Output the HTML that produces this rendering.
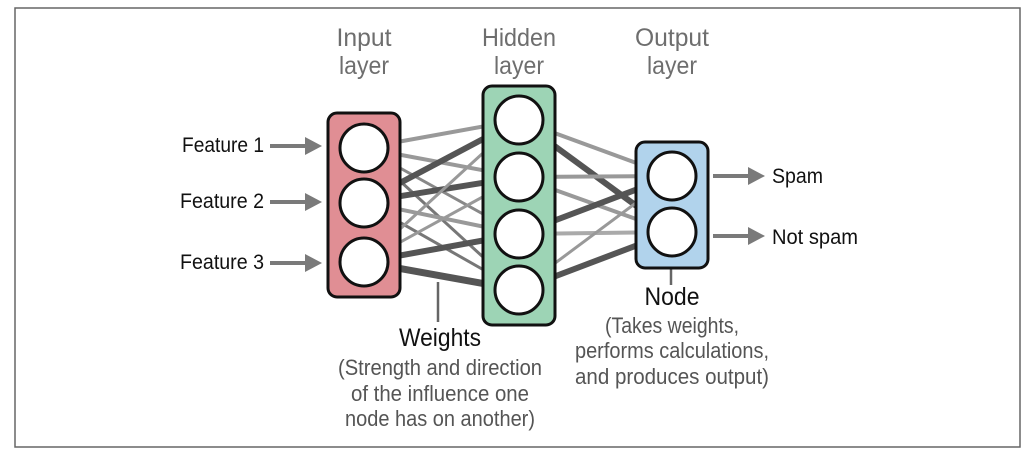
<!DOCTYPE html>
<html><head><meta charset="utf-8"><style>
html,body{margin:0;padding:0;background:#fff}
svg{display:block}
text{font-family:"Liberation Sans Narrow","Liberation Sans",sans-serif}
</style></head><body>
<svg width="1032" height="459" viewBox="0 0 1032 459">
<rect x="15" y="8" width="1005" height="439" fill="#fff" stroke="#666" stroke-width="1.5"/>
<!-- titles -->
<g fill="#6e6e6e" font-size="25" text-anchor="middle">
<text x="364" y="46" textLength="55" lengthAdjust="spacingAndGlyphs">Input</text>
<text x="364" y="74" textLength="50" lengthAdjust="spacingAndGlyphs">layer</text>
<text x="519" y="46" textLength="74" lengthAdjust="spacingAndGlyphs">Hidden</text>
<text x="519" y="74" textLength="50" lengthAdjust="spacingAndGlyphs">layer</text>
<text x="672" y="46" textLength="74" lengthAdjust="spacingAndGlyphs">Output</text>
<text x="672" y="74" textLength="50" lengthAdjust="spacingAndGlyphs">layer</text>
</g>
<!-- features -->
<g fill="#111" font-size="21" text-anchor="end">
<text x="264" y="152" textLength="82" lengthAdjust="spacingAndGlyphs">Feature 1</text>
<text x="264" y="208" textLength="84" lengthAdjust="spacingAndGlyphs">Feature 2</text>
<text x="264" y="269" textLength="84" lengthAdjust="spacingAndGlyphs">Feature 3</text>
</g>
<g stroke="#7a7a7a" stroke-width="4">
<line x1="270" y1="146" x2="308" y2="146"/>
<line x1="270" y1="202" x2="308" y2="202"/>
<line x1="270" y1="263" x2="308" y2="263"/>
<line x1="713" y1="176" x2="751" y2="176"/>
<line x1="713" y1="236" x2="751" y2="236"/>
</g>
<g fill="#7a7a7a">
<path d="M305,137 L322,146 L305,155 Z"/>
<path d="M305,193 L322,202 L305,211 Z"/>
<path d="M305,254 L322,263 L305,272 Z"/>
<path d="M748,167 L765,176 L748,185 Z"/>
<path d="M748,227 L765,236 L748,245 Z"/>
</g>
<g fill="#111" font-size="21">
<text x="772" y="183" textLength="51" lengthAdjust="spacingAndGlyphs">Spam</text>
<text x="772" y="244" textLength="86" lengthAdjust="spacingAndGlyphs">Not spam</text>
</g>
<!-- connections -->
<g stroke-linecap="butt">
<line x1="364" y1="148" x2="519" y2="120" stroke="#999" stroke-width="4"/>
<line x1="364" y1="148" x2="519" y2="177" stroke="#999" stroke-width="4"/>
<line x1="364" y1="148" x2="519" y2="234" stroke="#888" stroke-width="3"/>
<line x1="364" y1="148" x2="519" y2="290" stroke="#777" stroke-width="3"/>
<line x1="364" y1="202" x2="519" y2="120" stroke="#555" stroke-width="6"/>
<line x1="364" y1="202" x2="519" y2="177" stroke="#555" stroke-width="6"/>
<line x1="364" y1="202" x2="519" y2="234" stroke="#999" stroke-width="4"/>
<line x1="364" y1="202" x2="519" y2="290" stroke="#777" stroke-width="3"/>
<line x1="364" y1="262" x2="519" y2="120" stroke="#999" stroke-width="3"/>
<line x1="364" y1="262" x2="519" y2="177" stroke="#999" stroke-width="3"/>
<line x1="364" y1="262" x2="519" y2="234" stroke="#555" stroke-width="6"/>
<line x1="364" y1="262" x2="519" y2="290" stroke="#555" stroke-width="7"/>
<line x1="519" y1="120" x2="672" y2="176" stroke="#999" stroke-width="4"/>
<line x1="519" y1="120" x2="672" y2="232" stroke="#555" stroke-width="6"/>
<line x1="519" y1="177" x2="672" y2="176" stroke="#999" stroke-width="4"/>
<line x1="519" y1="177" x2="672" y2="232" stroke="#999" stroke-width="4"/>
<line x1="519" y1="234" x2="672" y2="176" stroke="#555" stroke-width="6"/>
<line x1="519" y1="234" x2="672" y2="232" stroke="#aaa" stroke-width="4"/>
<line x1="519" y1="290" x2="672" y2="176" stroke="#999" stroke-width="3"/>
<line x1="519" y1="290" x2="672" y2="232" stroke="#555" stroke-width="6"/>
</g>
<!-- pointer lines -->
<line x1="438" y1="282" x2="438" y2="322" stroke="#666" stroke-width="2.5"/>
<line x1="671" y1="252" x2="671" y2="285" stroke="#666" stroke-width="2.5"/>
<!-- boxes -->
<rect x="328" y="113" width="72" height="184" rx="9" fill="#e08e94" stroke="#111" stroke-width="3"/>
<rect x="483" y="86" width="72" height="239" rx="9" fill="#9dd4b5" stroke="#111" stroke-width="3"/>
<rect x="636" y="142" width="72" height="126" rx="9" fill="#b1d3ec" stroke="#111" stroke-width="3"/>
<g fill="#fff" stroke="#111" stroke-width="3">
<circle cx="364" cy="148" r="24"/><circle cx="364" cy="203" r="24"/><circle cx="364" cy="262" r="24"/>
<circle cx="519" cy="120" r="24"/><circle cx="519" cy="177" r="24"/><circle cx="519" cy="234" r="24"/><circle cx="519" cy="290" r="24"/>
<circle cx="672" cy="176" r="24"/><circle cx="672" cy="232" r="24"/>
</g>
<!-- labels -->
<g text-anchor="middle">
<text x="440" y="346" font-size="25" fill="#111" textLength="82" lengthAdjust="spacingAndGlyphs">Weights</text>
<g fill="#555" font-size="22">
<text x="440" y="375" textLength="204" lengthAdjust="spacingAndGlyphs">(Strength and direction</text>
<text x="440" y="401" textLength="178" lengthAdjust="spacingAndGlyphs">of the influence one</text>
<text x="440" y="426" textLength="190" lengthAdjust="spacingAndGlyphs">node has on another)</text>
</g>
<text x="672" y="305" font-size="25" fill="#111" textLength="55" lengthAdjust="spacingAndGlyphs">Node</text>
<g fill="#555" font-size="22">
<text x="672" y="333" textLength="134" lengthAdjust="spacingAndGlyphs">(Takes weights,</text>
<text x="672" y="358" textLength="194" lengthAdjust="spacingAndGlyphs">performs calculations,</text>
<text x="672" y="384" textLength="194" lengthAdjust="spacingAndGlyphs">and produces output)</text>
</g>
</g>
</svg>
</body></html>
